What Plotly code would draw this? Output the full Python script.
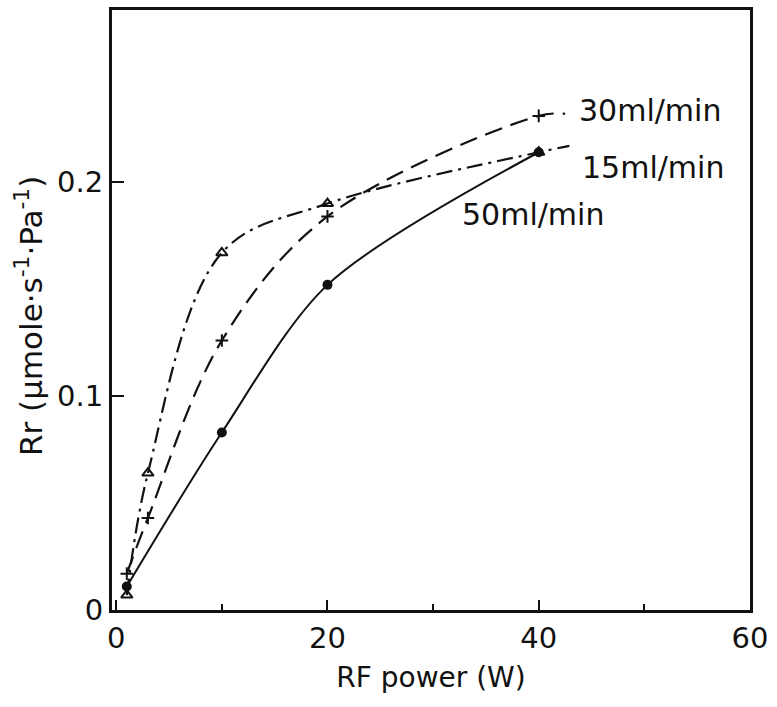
import plotly.graph_objects as go

# RF power (W) at which each flow rate was measured
power_50 = [1, 10, 20, 40]
rr_50 = [0.011, 0.083, 0.152, 0.214]

power_30 = [1, 3, 10, 20, 40]
rr_30 = [0.017, 0.043, 0.126, 0.184, 0.231]

power_15 = [1, 3, 10, 20, 40]
rr_15 = [0.007, 0.064, 0.167, 0.190, 0.214]

# where the fitted curves run out past the last measurement
tail_30 = (42.5, 0.232)
tail_15 = (42.9, 0.217)

flow_labels = ["50ml/min", "30ml/min", "15ml/min"]
label_pos = [(32.5, 0.1847), (43.6, 0.2335), (43.9, 0.207)]

x_ticks = [0, 20, 40, 60]
y_ticks = [0, 0.1, 0.2]
y_tick_text = ["0", "0.1", "0.2"]

FONT = "DejaVu Sans"
INK = "#111111"

fig = go.Figure()

curves = [
    (power_50, rr_50, None, "solid", 2.0, 0.85),
    (power_30, rr_30, tail_30, "18px,9px", 2.2, 1.0),
    (power_15, rr_15, tail_15, "16px,6px,3px,6px", 2.2, 1.0),
]
for xs, ys, tail, dash, w, sm in curves:
    lx = list(xs) + ([tail[0]] if tail else [])
    ly = list(ys) + ([tail[1]] if tail else [])
    fig.add_trace(go.Scatter(
        x=lx, y=ly, mode="lines",
        line=dict(color=INK, width=w, dash=dash, shape="spline", smoothing=sm),
        hoverinfo="skip", showlegend=False,
    ))

fig.add_trace(go.Scatter(
    x=power_50, y=rr_50, mode="markers",
    marker=dict(symbol="circle", size=10, color=INK),
    showlegend=False,
))
fig.add_trace(go.Scatter(
    x=power_30, y=rr_30, mode="markers",
    marker=dict(symbol="cross-thin-open", size=9, color=INK,
                line=dict(color=INK, width=2)),
    showlegend=False,
))
fig.add_trace(go.Scatter(
    x=power_15, y=rr_15, mode="markers",
    marker=dict(symbol="triangle-up-open", size=10, color=INK,
                line=dict(color=INK, width=2)),
    showlegend=False,
))

for text, (lx, ly) in zip(flow_labels, label_pos):
    fig.add_annotation(x=lx, y=ly, text=text, showarrow=False,
                       xanchor="left", yanchor="middle",
                       font=dict(family=FONT, size=30, color=INK))

fig.add_annotation(
    xref="paper", yref="paper", x=-0.13, y=0.49,
    text="Rr (μmole·s<sup>-1</sup>·Pa<sup>-1</sup>)", textangle=-90,
    showarrow=False, xanchor="center", yanchor="middle",
    font=dict(family=FONT, size=31, color=INK),
)

fig.update_layout(
    width=777, height=707,
    margin=dict(l=112, r=27, t=7, b=97),
    paper_bgcolor="white", plot_bgcolor="white",
    font=dict(family=FONT, color=INK),
)
fig.update_xaxes(
    range=[-0.4, 60], tickvals=x_ticks, ticks="inside", ticklen=10,
    tickwidth=2, tickcolor=INK, showgrid=False, zeroline=False,
    showline=True, linewidth=3, linecolor=INK, mirror=True,
    tickfont=dict(family=FONT, size=29, color=INK),
    minor=dict(dtick=10, tick0=0, ticks="inside", ticklen=6, tickwidth=2,
               tickcolor=INK, showgrid=False),
    title=dict(text="RF power (W)", font=dict(family=FONT, size=28, color=INK),
               standoff=14),
)
fig.update_yaxes(
    range=[0, 0.2805], tickvals=y_ticks, ticktext=y_tick_text,
    ticks="inside", ticklen=12, tickwidth=2, tickcolor=INK,
    showgrid=False, zeroline=False,
    showline=True, linewidth=3, linecolor=INK, mirror=True,
    tickfont=dict(family=FONT, size=29, color=INK),
)

fig.write_html("out.html")
